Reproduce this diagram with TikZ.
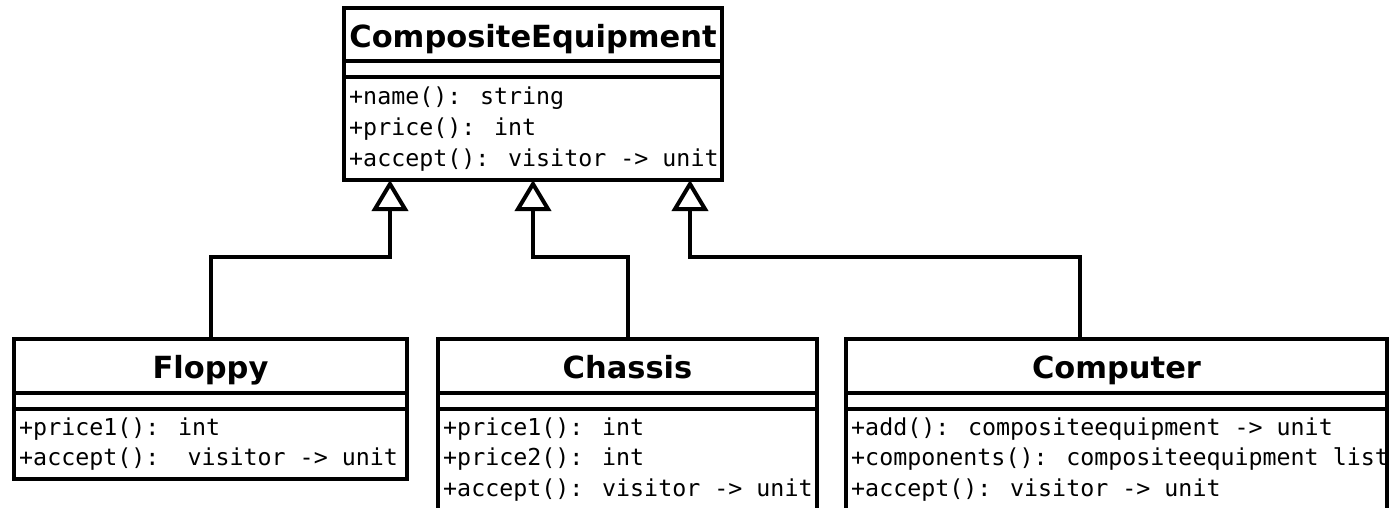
\documentclass[tikz,border=0pt]{standalone}
\usepackage{fontspec}
\usetikzlibrary{arrows.meta,calc}
\newfontfamily\classtitlefont{DejaVu Sans}
\newfontfamily\memberfont{DejaVu Sans Mono}

\begin{document}
\begin{tikzpicture}[x=1pt,y=-1pt,
  line join=miter,
  classbox/.style={draw, line width=4pt, anchor=north west, inner sep=0pt,
                   outer sep=0pt, fill=white},
  compartment/.style={line width=4pt},
  classname/.style={anchor=base, inner sep=0pt,
                    font=\classtitlefont\bfseries\fontsize{30.5}{36}\selectfont},
  member/.style={anchor=base west, inner sep=0pt,
                 font=\memberfont\fontsize{23.3}{30}\selectfont},
  inherits/.style={line width=4pt,
                   -{Triangle[open, length=31pt, width=36pt]}}
]
\useasboundingbox (0,0) rectangle (1391,508);
\clip (0,0) rectangle (1391,508);
\fill[white] (0,0) rectangle (1391,508);

% ---- CompositeEquipment ----
\node[classbox, minimum width=378pt, minimum height=172pt] (ce) at (344,8) {};
\draw[compartment] ($(ce.north west)+(0,53)$) -- ($(ce.north east)+(0,53)$);
\draw[compartment] ($(ce.north west)+(0,69)$) -- ($(ce.north east)+(0,69)$);
\node[classname] (ce-name) at ($(ce.north)+(0,40)$) {CompositeEquipment};
\node[member] (ce-m1) at ($(ce.north west)+(5,97)$) {+name(): string};
\node[member] (ce-m2) at ($(ce.north west)+(5,127.5)$) {+price(): int};
\node[member] (ce-m3) at ($(ce.north west)+(5,158)$) {+accept(): visitor -> unit};

% ---- Floppy ----
\node[classbox, minimum width=393pt, minimum height=140pt] (fl) at (14,339) {};
\draw[compartment] ($(fl.north west)+(0,54)$) -- ($(fl.north east)+(0,54)$);
\draw[compartment] ($(fl.north west)+(0,70)$) -- ($(fl.north east)+(0,70)$);
\node[classname] (fl-name) at ($(fl.north)+(0,39)$) {Floppy};
\node[member] (fl-m1) at ($(fl.north west)+(5,96)$) {+price1(): int};
\node[member] (fl-m2) at ($(fl.north west)+(5,126.5)$) {+accept():\ \ visitor -> unit};

% ---- Chassis ----
\node[classbox, minimum width=379pt, minimum height=200pt] (ch) at (438,339) {};
\draw[compartment] ($(ch.north west)+(0,54)$) -- ($(ch.north east)+(0,54)$);
\draw[compartment] ($(ch.north west)+(0,70)$) -- ($(ch.north east)+(0,70)$);
\node[classname] (ch-name) at ($(ch.north)+(0,39)$) {Chassis};
\node[member] (ch-m1) at ($(ch.north west)+(5,96)$) {+price1(): int};
\node[member] (ch-m2) at ($(ch.north west)+(5,126.5)$) {+price2(): int};
\node[member] (ch-m3) at ($(ch.north west)+(5,157)$) {+accept(): visitor -> unit};

% ---- Computer ----
\node[classbox, minimum width=541pt, minimum height=200pt] (co) at (846,339) {};
\draw[compartment] ($(co.north west)+(0,54)$) -- ($(co.north east)+(0,54)$);
\draw[compartment] ($(co.north west)+(0,70)$) -- ($(co.north east)+(0,70)$);
\node[classname] (co-name) at ($(co.north)+(0,39)$) {Computer};
\node[member] (co-m1) at ($(co.north west)+(5,96)$) {+add(): compositeequipment -> unit};
\node[member] (co-m2) at ($(co.north west)+(5,126.5)$) {+components(): compositeequipment list};
\node[member] (co-m3) at ($(co.north west)+(5,157)$) {+accept(): visitor -> unit};
\draw[line width=4pt] (co.north east) -- (co.south east);

% ---- generalisation arrows ----
\coordinate (tip-fl) at ($(ce.south west)+(46,0)$);
\coordinate (tip-ch) at ($(ce.south west)+(189,0)$);
\coordinate (tip-co) at ($(ce.south west)+(346,0)$);
\coordinate (co-top) at ($(co.north west)+(234,0)$);

\draw[inherits] (fl.north) -- ++(0,-82) -| (tip-fl);
\draw[inherits] (ch.north) -- ++(0,-82) -| (tip-ch);
\draw[inherits] (co-top) -- ++(0,-82) -| (tip-co);
\end{tikzpicture}
\end{document}
